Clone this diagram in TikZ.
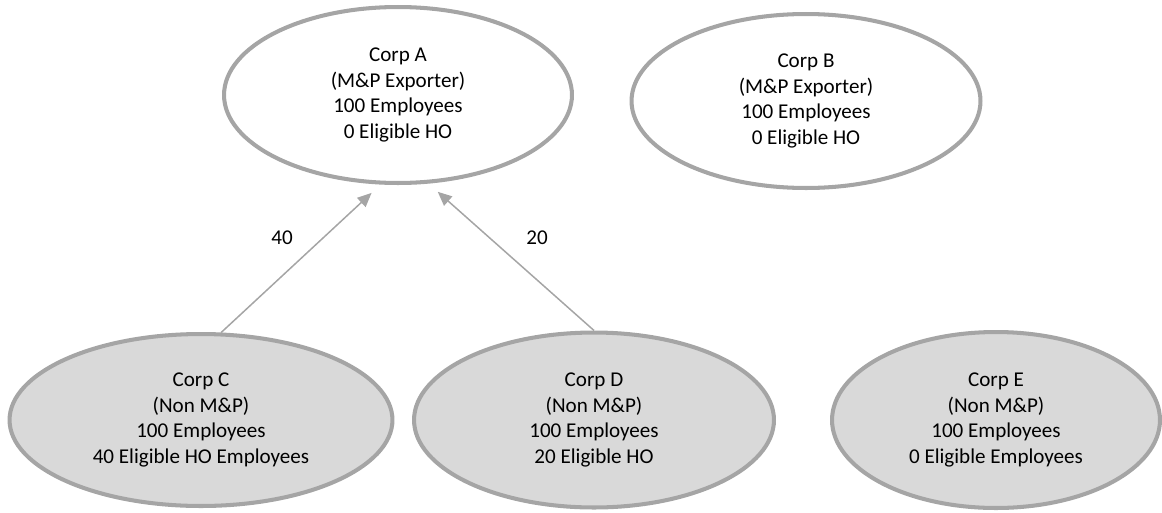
\documentclass[tikz,border=0pt]{standalone}
\usepackage{fontspec}
\setmainfont{Carlito}
\usetikzlibrary{shapes.geometric,arrows.meta}
\definecolor{rim}{HTML}{A5A5A5}
\definecolor{shade}{HTML}{D9D9D9}
\tikzset{
    corp/.style={ellipse, draw=rim, line width=2.3pt, inner sep=0pt, align=center},
    nonmp/.style={corp, fill=shade},
    flow/.style={draw=rim, line width=0.85pt, -{Triangle[length=8pt,width=7pt]}, shorten >=7pt},
}
\begin{document}
\begin{tikzpicture}[x=0.02cm,y=0.02cm,font=\fontsize{12}{14.6}\selectfont]
    \useasboundingbox (0,0) rectangle (1162,512);
    \node[corp, minimum width=6.96cm, minimum height=3.52cm] (a) at (398,417)
        {Corp A\\(M\&P Exporter)\\100 Employees\\0 Eligible HO};
    \node[corp, minimum width=6.98cm, minimum height=3.48cm] (b) at (806,411)
        {Corp B\\(M\&P Exporter)\\100 Employees\\0 Eligible HO};
    \node[nonmp, minimum width=7.66cm, minimum height=3.44cm] (c) at (201,92)
        {Corp C\\(Non M\&P)\\100 Employees\\40 Eligible HO Employees};
    \node[nonmp, minimum width=7.2cm, minimum height=3.5cm] (d) at (594,92)
        {Corp D\\(Non M\&P)\\100 Employees\\20 Eligible HO};
    \node[nonmp, minimum width=6.56cm, minimum height=3.52cm] (e) at (996,92)
        {Corp E\\(Non M\&P)\\100 Employees\\0 Eligible Employees};

    \draw[flow] (c.77) -- (a.-101);
    \draw[flow] (d.north) -- (a.-71);
    \node (l40) at (282,274) {40};
    \node (l20) at (537,274) {20};
\end{tikzpicture}
\end{document}
